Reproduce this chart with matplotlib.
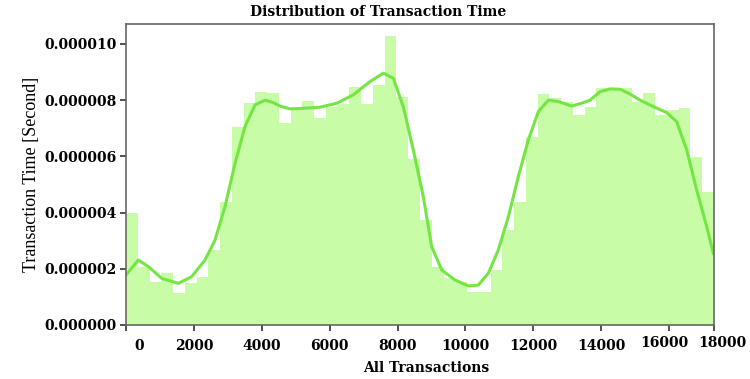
import numpy as np
import matplotlib.pyplot as plt
import matplotlib.transforms as mtransforms

# histogram (50 bins between 0 and the largest transaction index)
x_max = 17320
bar_heights = [3.97, 2.05, 1.54, 1.85, 1.15, 1.50, 1.72, 2.67, 4.39, 7.06,
               7.89, 8.30, 8.25, 7.20, 7.70, 7.98, 7.35, 7.75, 7.85, 8.48,
               7.86, 8.55, 10.28, 8.12, 5.92, 3.74, 2.07, 1.66, 1.54, 1.19,
               1.19, 1.96, 3.38, 4.39, 6.70, 8.23, 8.07, 7.95, 7.47, 7.77,
               8.42, 8.45, 8.45, 7.95, 8.25, 7.47, 7.65, 7.71, 5.99, 4.74]

# density curve
kde_x = [0, 363, 657, 1051, 1541, 1934, 2327, 2622, 2916, 3211, 3505, 3800,
         4094, 4340, 4536, 4830, 5223, 5714, 6205, 6696, 7187, 7580, 7874,
         8168, 8463, 8757, 9004, 9299, 9691, 10084, 10378, 10673, 10967,
         11262, 11556, 11851, 12145, 12440, 12734, 13127, 13422, 13667,
         13962, 14256, 14551, 14845, 15140, 15533, 15926, 16221, 16516,
         16810, 17105, 17301]
kde_y = [1.78, 2.31, 2.08, 1.66, 1.48, 1.72, 2.31, 3.02, 4.21, 5.75, 7.06,
         7.83, 8.00, 7.91, 7.79, 7.69, 7.71, 7.75, 7.89, 8.19, 8.66, 8.96,
         8.78, 7.77, 6.23, 4.57, 2.79, 1.96, 1.60, 1.39, 1.42, 1.84, 2.67,
         3.85, 5.28, 6.58, 7.59, 8.00, 7.95, 7.79, 7.89, 8.00, 8.30, 8.40,
         8.39, 8.22, 8.00, 7.77, 7.56, 7.23, 6.23, 4.80, 3.50, 2.55]

x_ticks = [0, 2000, 4000, 6000, 8000, 10000, 12000, 14000, 16000, x_max]
x_labels = ['0', '2000', '4000', '6000', '8000', '10000', '12000', '14000',
            '16000', '18000']
y_ticks = [0, 2e-6, 4e-6, 6e-6, 8e-6, 1e-5]

serif = 'Liberation Serif'
wide = 'DejaVu Serif'   # the reference text is stretched sideways

fig = plt.figure(figsize=(7.5, 3.79), dpi=100)
ax = fig.add_axes([0.168, 0.1425, 0.784, 0.7942])

edges = np.linspace(0, x_max, len(bar_heights) + 1)
ax.bar(edges[:-1], np.array(bar_heights) * 1e-6, width=np.diff(edges),
       align='edge', color='#c8fca6', linewidth=0)
ax.plot(kde_x, np.array(kde_y) * 1e-6, color='#74e644', linewidth=2.2,
        solid_joinstyle='round')

ax.set_xlim(0, x_max)
ax.set_ylim(0, 1.071e-5)
ax.set_xticks(x_ticks)
ax.set_xticklabels([])
ax.set_yticks(y_ticks)
ax.set_yticklabels(['%.6f' % v for v in y_ticks], fontfamily=wide,
                   fontweight='bold', fontsize=10)

# x labels drawn by hand, a few sit off their ticks in the original (pixels)
nudges = {0: (13, 0), 8: (-5, 3), 9: (8, 3)}
base = mtransforms.blended_transform_factory(ax.transData, ax.transAxes)
for i, (xt, txt) in enumerate(zip(x_ticks, x_labels)):
    dx, dy = nudges.get(i, (0, 0))
    tr = base + mtransforms.ScaledTranslation(dx / 100, dy / 100,
                                              fig.dpi_scale_trans)
    ax.text(xt, -0.045, txt, transform=tr, ha='center', va='top',
            fontfamily=wide, fontweight='bold', fontsize=10)

ax.tick_params(axis='both', direction='out', length=4, width=1.2,
               color='#333333', pad=3)
for s in ax.spines.values():
    s.set_color('#666666')
    s.set_linewidth(1.2)

fig.text(0.504, 0.968, 'Distribution of Transaction Time', fontfamily=wide,
         fontweight='bold', fontsize=10, ha='center', va='center')
fig.text(0.568, 0.028, 'All Transactions', fontfamily=wide,
         fontweight='bold', fontsize=10, ha='center', va='center')
ax.set_ylabel('Transaction Time [Second]', fontfamily=serif, fontsize=13,
              labelpad=3)

fig.savefig('out.png', dpi=100)
